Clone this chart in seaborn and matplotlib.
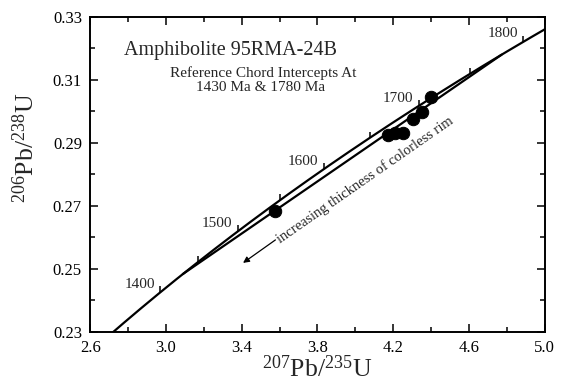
import numpy as np
import pandas as pd
import matplotlib
matplotlib.use("Agg")
import matplotlib.pyplot as plt
import seaborn as sns
from matplotlib.ticker import FixedLocator

# --- datos ---
LAMBDA_238 = 1.55125e-10   # constantes de decaimiento (1/a)
LAMBDA_235 = 9.8485e-10
curve_ages = np.linspace(1300, 1860, 300)       # Ma, rango de la concordia
tick_ages = [1400, 1450, 1500, 1550, 1600, 1650, 1700, 1750, 1800]
label_ages = [1400, 1500, 1600, 1700, 1800]
chord_ages = [1430, 1780]                        # interceptos de referencia
sample_x = [3.576, 4.173, 4.209, 4.253, 4.302, 4.354, 4.402]
sample_y = [0.2684, 0.2925, 0.2931, 0.2933, 0.2976, 0.2997, 0.3045]
xticks_major = [2.6, 3.0, 3.4, 3.8, 4.2, 4.6, 5.0]
xticks_minor = [2.8, 3.2, 3.6, 4.0, 4.4, 4.8]
yticks_major = [0.23, 0.25, 0.27, 0.29, 0.31, 0.33]
yticks_minor = [0.24, 0.26, 0.28, 0.30, 0.32]

def concordia(ages_ma):
    t = np.asarray(ages_ma, dtype=float) * 1e6
    return np.exp(LAMBDA_235 * t) - 1, np.exp(LAMBDA_238 * t) - 1

sns.set_style("ticks")
plt.rcParams['font.family'] = ['Liberation Serif', 'DejaVu Serif']
plt.rcParams['mathtext.default'] = 'regular'

fig, ax = plt.subplots(figsize=(5.71, 3.85), dpi=100)
fig.subplots_adjust(left=0.158, right=0.954, top=0.956, bottom=0.138)

cx, cy = concordia(curve_ages)
df_curve = pd.DataFrame({'x': cx, 'y': cy})
sns.lineplot(data=df_curve, x='x', y='y', color='black', lw=1.6, sort=False, ax=ax)

hx, hy = concordia(chord_ages)
sns.lineplot(x=hx, y=hy, color='black', lw=1.6, ax=ax)

# marcas de edad sobre la concordia
tx, ty = concordia(tick_ages)
ax.plot(tx, ty, ls='none', marker=2, ms=4, mew=1.1, color='black')
lx, ly = concordia(label_ages)
for a, x, y in zip(label_ages, lx, ly):
    ax.annotate(str(a), (x, y), xytext=(-4, 1), textcoords='offset points',
                ha='right', va='bottom', fontsize=11)

sns.scatterplot(x=sample_x, y=sample_y, s=80, color='black', edgecolor='black',
                zorder=5, ax=ax)

# flecha y texto
ax.annotate('', xy=(3.407, 0.2519), xytext=(3.578, 0.2592),
            arrowprops=dict(arrowstyle='-|>', color='black', lw=0.9,
                            mutation_scale=9, shrinkA=0, shrinkB=0))
ax.text(3.59, 0.2590, 'increasing thickness of colorless rim', rotation=34.8,
        rotation_mode='anchor', ha='left', va='center', fontsize=10.5)

ax.text(0.308, 0.893, 'Amphibolite 95RMA-24B', transform=ax.transAxes,
        ha='center', va='center', fontsize=14.5)
ax.text(0.380, 0.822, 'Reference Chord Intercepts At', transform=ax.transAxes,
        ha='center', va='center', fontsize=11)
ax.text(0.374, 0.775, '1430 Ma & 1780 Ma', transform=ax.transAxes,
        ha='center', va='center', fontsize=11)

ax.set_xlim(2.6, 5.0)
ax.set_ylim(0.23, 0.33)
ax.xaxis.set_major_locator(FixedLocator(xticks_major))
ax.xaxis.set_minor_locator(FixedLocator(xticks_minor))
ax.yaxis.set_major_locator(FixedLocator(yticks_major))
ax.yaxis.set_minor_locator(FixedLocator(yticks_minor))
ax.xaxis.set_major_formatter(lambda v, p: f"{v:.1f}")
ax.yaxis.set_major_formatter(lambda v, p: f"{v:.2f}")
ax.tick_params(which='both', direction='in', top=True, right=True, width=1.1,
               labelsize=12, color='black', labelcolor='black')
ax.tick_params(which='major', length=6)
ax.tick_params(which='minor', length=3.5)
ax.tick_params(axis='x', pad=6)
ax.tick_params(axis='y', pad=6)
for sp in ax.spines.values():
    sp.set_linewidth(1.4)
    sp.set_color('black')

ax.set_xlabel(r'$^{207}$Pb/$^{235}$U', fontsize=18.5, va='center')
ax.xaxis.set_label_coords(0.5, -0.118)
ax.set_ylabel(r'$^{206}$Pb/$^{238}$U', fontsize=18.5, va='center')
ax.yaxis.set_label_coords(-0.143, 0.584)

fig.savefig('out.png', dpi=100)
